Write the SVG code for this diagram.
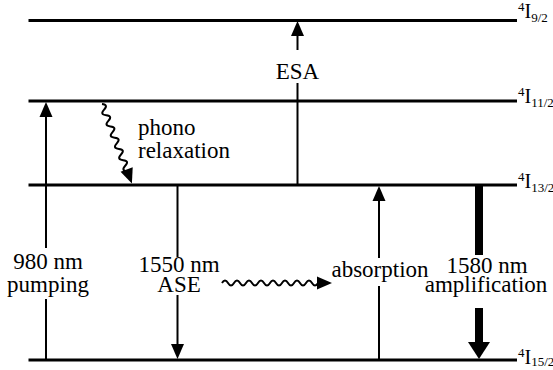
<svg xmlns="http://www.w3.org/2000/svg" width="553" height="370" viewBox="0 0 553 370" font-family="Liberation Serif, serif">
<defs>
<polygon id="ahUp" points="0,0 -6.5,15 6.5,15" fill="#000"/>
<polygon id="ahDown" points="0,0 -6.5,-15 6.5,-15" fill="#000"/>
</defs>
<rect width="553" height="370" fill="#fff"/>
<g id="levels" font-family="Liberation Serif" font-size="20">
<g stroke="#000" stroke-width="3">
<line x1="28.5" y1="20.5" x2="517" y2="20.5"/>
<line x1="28.5" y1="101" x2="517" y2="101"/>
<line x1="28.5" y1="185" x2="517" y2="185"/>
<line x1="28.5" y1="360" x2="517" y2="360"/>
</g>
<g id="I92"><text x="518" y="18"><tspan font-size="13" dy="-7">4</tspan><tspan dy="7">I</tspan><tspan font-size="13" dy="4">9/2</tspan></text></g>
<g id="I112"><text x="518" y="103"><tspan font-size="13" dy="-7">4</tspan><tspan dy="7">I</tspan><tspan font-size="13" dy="4">11/2</tspan></text></g>
<g id="I132"><text x="518" y="188"><tspan font-size="13" dy="-7">4</tspan><tspan dy="7">I</tspan><tspan font-size="13" dy="4">13/2</tspan></text></g>
<g id="I152"><text x="518" y="364"><tspan font-size="13" dy="-7">4</tspan><tspan dy="7">I</tspan><tspan font-size="13" dy="2">15/2</tspan></text></g>
</g>
<g id="connectors" stroke="#000" stroke-width="2" fill="none">
<g id="pump">
<line x1="46" y1="359" x2="46" y2="299"/>
<line x1="46" y1="248" x2="46" y2="114"/>
<use href="#ahUp" x="46" y="102" stroke="none"/>
</g>
<g id="esa">
<line x1="297.5" y1="185" x2="297.5" y2="83"/>
<line x1="297.5" y1="50" x2="297.5" y2="33"/>
<use href="#ahUp" x="297.5" y="21" stroke="none"/>
</g>
<g id="ase">
<line x1="177.5" y1="186" x2="177.5" y2="257"/>
<line x1="177.5" y1="295" x2="177.5" y2="347"/>
<use href="#ahDown" x="177.5" y="359" stroke="none"/>
</g>
<g id="abs">
<line x1="379" y1="359" x2="379" y2="286"/>
<line x1="379" y1="258" x2="379" y2="198"/>
<use href="#ahUp" x="379" y="186" stroke="none"/>
</g>
<g id="amp" fill="#000" stroke="none">
<rect x="475" y="185" width="8" height="70"/>
<rect x="475" y="308" width="8" height="36"/>
<polygon points="479,359 468,342 490,342"/>
</g>
<g id="phono" transform="translate(102,104) rotate(69.4)">
<path stroke-linejoin="round" d="M0,0 q3,-6 6,0 t6,0 t6,0 t6,0 t6,0 t6,0 t6,0 t6,0 t6,0 t6,0 t6,0 t6,0 l2,0"/>
<polygon points="85,0 70,-6.5 70,6.5" fill="#000" stroke="none"/>
</g>
<g id="asewave" transform="translate(222,283)">
<path stroke-linejoin="round" d="M0,0 q3,-5 6,0 t6,0 t6,0 t6,0 t6,0 t6,0 t6,0 t6,0 t6,0 t6,0 t6,0 t6,0 t6,0 t6,0 t6,0 t6,0 l2,0"/>
<polygon points="110,0 95,-6.5 95,6.5" fill="#000" stroke="none"/>
</g>
</g>
<g id="labels" font-family="Liberation Serif" font-size="23" fill="#000">
<text x="48" y="269" text-anchor="middle">980 nm</text>
<text x="48" y="292" text-anchor="middle">pumping</text>
<text x="297.5" y="79" text-anchor="middle">ESA</text>
<text x="138" y="135">phono</text>
<text x="138" y="158">relaxation</text>
<text x="179" y="272" text-anchor="middle">1550 nm</text>
<text x="179" y="292" text-anchor="middle">ASE</text>
<text x="380" y="277" text-anchor="middle">absorption</text>
<text x="487" y="273" text-anchor="middle">1580 nm</text>
<text x="486" y="292" text-anchor="middle">amplification</text>
</g>
</svg>
